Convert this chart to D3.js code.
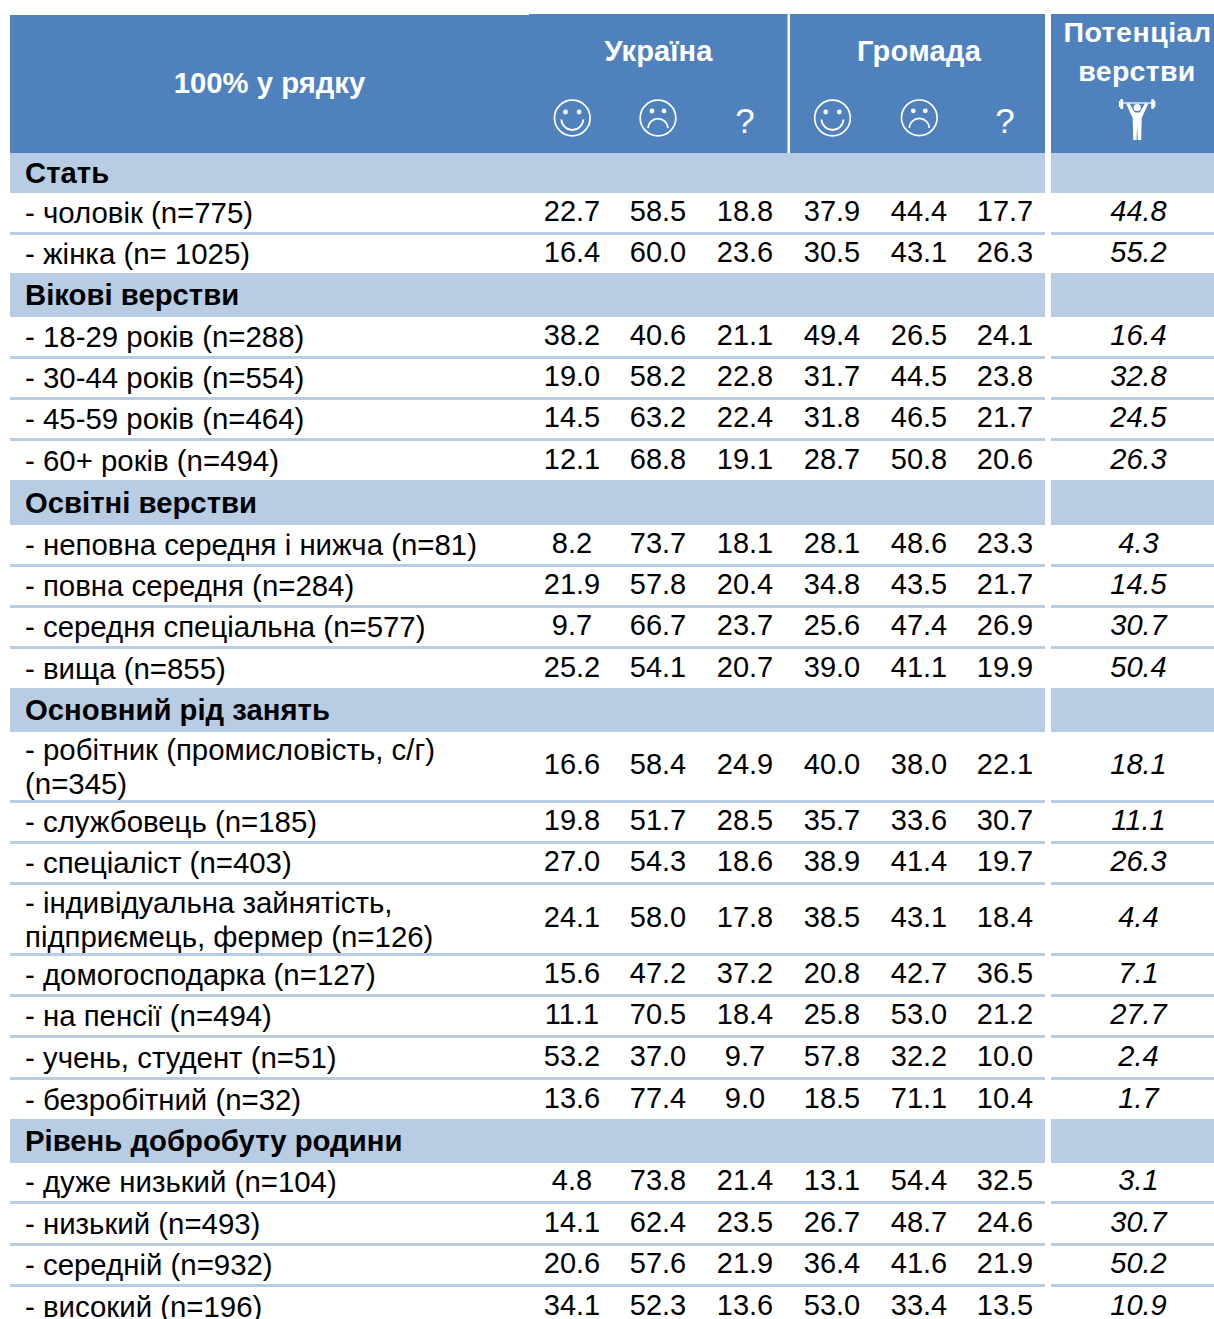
<!DOCTYPE html>
<html><head><meta charset="utf-8">
<script src="https://cdn.jsdelivr.net/npm/d3@7"></script>
<style>html,body{margin:0;padding:0;background:#fff;overflow:hidden}svg{display:block}text{font-family:"Liberation Sans",Arial,sans-serif}</style>
</head><body><div id="c"></div>
<script>
const headerLeft = "100% у рядку";
const groupsTop = ["Україна", "Громада"];
const potentialTitle = ["Потенціал", "верстви"];
const rowLabels = [
 ["Стать"],
 ["- чоловік (n=775)"],["- жінка (n= 1025)"],
 ["Вікові верстви"],
 ["- 18-29 років (n=288)"],["- 30-44 років (n=554)"],["- 45-59 років (n=464)"],["- 60+ років (n=494)"],
 ["Освітні верстви"],
 ["- неповна середня і нижча (n=81)"],["- повна середня (n=284)"],["- середня спеціальна (n=577)"],["- вища (n=855)"],
 ["Основний рід занять"],
 ["- робітник (промисловість, с/г)","(n=345)"],["- службовець (n=185)"],["- спеціаліст (n=403)"],
 ["- індивідуальна зайнятість,","підприємець, фермер (n=126)"],
 ["- домогосподарка (n=127)"],["- на пенсії (n=494)"],["- учень, студент (n=51)"],["- безробітний (n=32)"],
 ["Рівень добробуту родини"],
 ["- дуже низький (n=104)"],["- низький (n=493)"],["- середній (n=932)"],["- високий (n=196)"]
];
const rowValues = [
 null,
 ["22.7","58.5","18.8","37.9","44.4","17.7","44.8"],["16.4","60.0","23.6","30.5","43.1","26.3","55.2"],
 null,
 ["38.2","40.6","21.1","49.4","26.5","24.1","16.4"],["19.0","58.2","22.8","31.7","44.5","23.8","32.8"],
 ["14.5","63.2","22.4","31.8","46.5","21.7","24.5"],["12.1","68.8","19.1","28.7","50.8","20.6","26.3"],
 null,
 ["8.2","73.7","18.1","28.1","48.6","23.3","4.3"],["21.9","57.8","20.4","34.8","43.5","21.7","14.5"],
 ["9.7","66.7","23.7","25.6","47.4","26.9","30.7"],["25.2","54.1","20.7","39.0","41.1","19.9","50.4"],
 null,
 ["16.6","58.4","24.9","40.0","38.0","22.1","18.1"],["19.8","51.7","28.5","35.7","33.6","30.7","11.1"],
 ["27.0","54.3","18.6","38.9","41.4","19.7","26.3"],["24.1","58.0","17.8","38.5","43.1","18.4","4.4"],
 ["15.6","47.2","37.2","20.8","42.7","36.5","7.1"],["11.1","70.5","18.4","25.8","53.0","21.2","27.7"],
 ["53.2","37.0","9.7","57.8","32.2","10.0","2.4"],["13.6","77.4","9.0","18.5","71.1","10.4","1.7"],
 null,
 ["4.8","73.8","21.4","13.1","54.4","32.5","3.1"],["14.1","62.4","23.5","26.7","48.7","24.6","30.7"],
 ["20.6","57.6","21.9","36.4","41.6","21.9","50.2"],["34.1","52.3","13.6","53.0","33.4","13.5","10.9"]
];
const columnIds = ["ua1","ua2","ua3","gr1","gr2","gr3","pot"];

// layout
const W=1214,H=1319,BLUE="#4f81bd",LIGHT="#b8cce4";
const rowEdges=[153,193,232,273,317,356,397,438,480,525,564,605,646,688,732,800,841,882,953,994,1035,1077,1119,1163,1201,1243,1284,1326];
const colX=d3.scaleOrdinal().domain(columnIds).range([572,658,745,832,919,1005,1138.5]);
const svg=d3.select("#c").append("svg").attr("width",W).attr("height",H);

const rows=rowLabels.map((l,i)=>({lines:l,vals:rowValues[i],y0:rowEdges[i],y1:rowEdges[i+1]}));

// header
svg.append("rect").attr("x",10).attr("y",15).attr("width",520).attr("height",138).attr("fill",BLUE);
svg.append("rect").attr("x",529).attr("y",14).attr("width",258.5).attr("height",139).attr("fill",BLUE);
svg.append("rect").attr("x",790).attr("y",14).attr("width",255).attr("height",139).attr("fill",BLUE);
svg.append("rect").attr("x",1051).attr("y",14).attr("width",163).attr("height",139).attr("fill",BLUE);
const hdr=(t,x,y,s,ls)=>svg.append("text").attr("x",x).attr("y",y).attr("text-anchor","middle").attr("fill","#fff").attr("font-weight","bold").attr("font-size",s).attr("letter-spacing",ls||0).text(t);
hdr(headerLeft,269.5,93,29.3);
hdr(groupsTop[0],658.5,60.5,29,0.15);hdr(groupsTop[1],919,60.5,29,0.3);
hdr(potentialTitle[0],1137.5,42,28.5,0.5);hdr(potentialTitle[1],1137,81,28.5,0.3);

// icons
function face(cx,cy,happy){
 const g=svg.append("g").attr("transform",`translate(${cx},${cy})`).attr("fill","none").attr("stroke","#fff");
 g.append("circle").attr("r",17.8).attr("stroke-width",1.7);
 const eyeX=happy?6.8:6, eyeY=happy?-6:-7;
 [-eyeX,eyeX].forEach(d=>g.append("circle").attr("cx",d).attr("cy",eyeY).attr("r",2.4).attr("fill","#fff").attr("stroke","none"));
 const p=d3.path();
 if(happy){p.arc(0,1,11,0.05,Math.PI-0.05);}else{p.arc(0,10.6,10,Math.PI+0.05,-0.05);}
 g.append("path").attr("d",p.toString()).attr("stroke-width",1.8);
}
face(572.3,118,true);face(658,118,false);face(832.5,118,true);face(919.3,117.8,false);
[745,1005].forEach(x=>svg.append("text").attr("x",x).attr("y",132.5).attr("text-anchor","middle").attr("fill","#fff").attr("font-size",35).text("?"));
const lifter=svg.append("g").attr("transform","translate(1137.2,0)").attr("fill","#fff").attr("stroke","none");
lifter.append("circle").attr("cx",0).attr("cy",107.5).attr("r",3.6);
lifter.append("path").attr("d","M-11,104 L-8,103 L-2.5,112.5 L2.5,112.5 L8,103 L11,104 L4.5,118 L4,140 L0.6,140 L0,125 L-0.6,140 L-4,140 L-4.5,118 Z");
lifter.append("rect").attr("x",-15).attr("y",102.4).attr("width",30).attr("height",1.2);
[-17,14].forEach(x=>lifter.append("rect").attr("x",x).attr("y",99).attr("width",3).attr("height",10).attr("rx",1));
[-18.2,17].forEach(x=>lifter.append("rect").attr("x",x).attr("y",101).attr("width",1.2).attr("height",6));

// bands and separators
const segs=[[10,1045],[1051,1214]];
const groupRows=rows.filter(r=>!r.vals);
segs.forEach(([a,b])=>{
 svg.append("g").selectAll("rect").data(groupRows).join("rect").attr("x",a).attr("y",d=>d.y0).attr("width",b-a).attr("height",d=>d.y1-d.y0).attr("fill",LIGHT);
 svg.append("g").selectAll("rect").data(rows.filter((r,i)=>r.vals&&i<rows.length-1&&rows[i+1].vals)).join("rect")
  .attr("x",a).attr("y",d=>d.y1).attr("width",b-a).attr("height",3).attr("fill",LIGHT);
});

// labels
const G=svg.append("g");
rows.forEach(r=>{
 const mid=(r.y0+r.y1)/2, two=r.lines.length>1;
 r.lines.forEach((t,k)=>{
  G.append("text").attr("x",25).attr("y",r.vals?(two?r.y1-40.5+k*34:r.y1-9):mid+10)
   .attr("font-size",r.vals?29.4:29.3).attr("font-weight",r.vals?"normal":"bold").attr("fill","#000").text(t);
 });
 if(r.vals){
  G.append("g").selectAll("text").data(r.vals).join("text")
   .attr("x",(d,i)=>colX(columnIds[i])).attr("y",two?r.y1-26:r.y1-11.5)
   .attr("text-anchor","middle").attr("font-size",29)
   .attr("font-style",(d,i)=>i===6?"italic":"normal").attr("fill","#000").text(d=>d);
 }
});
</script></body></html>
